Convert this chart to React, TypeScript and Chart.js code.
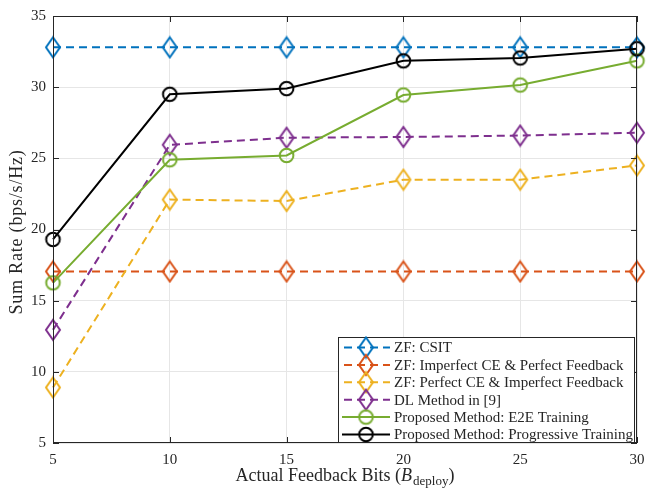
import React, { useEffect, useRef } from "react";
import { Chart, registerables } from "chart.js";
Chart.register(...registerables);

const bits = [5, 10, 15, 20, 25, 30];
const zfCsit = [32.8, 32.8, 32.8, 32.8, 32.8, 32.8];
const zfImperfectCe = [17.05, 17.05, 17.05, 17.05, 17.05, 17.05];
const zfImperfectFb = [8.9, 22.1, 22.0, 23.5, 23.5, 24.5];
const dlMethod = [12.95, 25.95, 26.45, 26.5, 26.6, 26.8];
const e2eTraining = [16.25, 24.9, 25.2, 29.45, 30.15, 31.85];
const progressiveTraining = [19.3, 29.5, 29.9, 31.85, 32.05, 32.7];
const xTicks = [5, 10, 15, 20, 25, 30];
const yTicks = [5, 10, 15, 20, 25, 30, 35];
const seriesLabels = [
  "ZF: CSIT",
  "ZF: Imperfect CE & Perfect Feedback",
  "ZF: Perfect CE & Imperfect Feedback",
  "DL Method in [9]",
  "Proposed Method: E2E Training",
  "Proposed Method: Progressive Training",
];
const seriesColors = ["#0072BD", "#D95319", "#EDB120", "#7E2F8E", "#77AC30", "#000000"];
const FONT = "'Liberation Serif', 'DejaVu Serif', serif";
const AXIS = "#262626";

function makeDiamond(color: string) {
  const w = 14, h = 20, lw = 2;
  const c = document.createElement("canvas");
  c.width = w + lw * 2;
  c.height = h + lw * 2;
  const ctx = c.getContext("2d")!;
  const cx = c.width / 2, cy = c.height / 2;
  ctx.strokeStyle = color;
  ctx.lineWidth = lw;
  ctx.lineJoin = "miter";
  ctx.beginPath();
  ctx.moveTo(cx, cy - h / 2);
  ctx.lineTo(cx + w / 2, cy);
  ctx.lineTo(cx, cy + h / 2);
  ctx.lineTo(cx - w / 2, cy);
  ctx.closePath();
  ctx.stroke();
  return c;
}

function makeCircle(color: string) {
  const r = 6.8, lw = 2;
  const c = document.createElement("canvas");
  c.width = Math.ceil(2 * r + lw * 2) + 1;
  c.height = c.width;
  const ctx = c.getContext("2d")!;
  ctx.strokeStyle = color;
  ctx.lineWidth = lw;
  ctx.beginPath();
  ctx.arc(c.width / 2, c.height / 2, r, 0, Math.PI * 2);
  ctx.stroke();
  return c;
}

export default function App() {
  const ref = useRef<HTMLCanvasElement>(null);
  useEffect(() => {
    if (!ref.current) return;
    const allValues = [zfCsit, zfImperfectCe, zfImperfectFb, dlMethod, e2eTraining, progressiveTraining];
    const dashed = [true, true, true, true, false, false];
    const markers = allValues.map((_, i) => (i < 4 ? makeDiamond(seriesColors[i]) : makeCircle(seriesColors[i])));
    const datasets = allValues.map((vals, i) => ({
      label: seriesLabels[i],
      data: bits.map((b, j) => ({ x: b, y: vals[j] })),
      borderColor: seriesColors[i],
      backgroundColor: "rgba(0,0,0,0)",
      borderWidth: 2,
      borderDash: dashed[i] ? [8, 5] : [],
      pointStyle: markers[i] as any,
      pointRadius: 8,
      tension: 0,
      clip: false as any,
      order: 6 - i,
    }));

    const framePlugin = {
      id: "frame",
      afterDatasetsDraw(chart: any) {
        const { ctx, chartArea: a, scales } = chart;
        ctx.save();
        ctx.strokeStyle = AXIS;
        ctx.lineWidth = 1;
        ctx.strokeRect(a.left + 0.5, a.top + 0.5, a.right - a.left - 1, a.bottom - a.top - 1);
        ctx.beginPath();
        xTicks.forEach((t) => {
          const x = Math.round(scales.x.getPixelForValue(t)) + 0.5;
          ctx.moveTo(x, a.bottom);
          ctx.lineTo(x, a.bottom - 6);
          ctx.moveTo(x, a.top);
          ctx.lineTo(x, a.top + 6);
        });
        yTicks.forEach((t) => {
          const y = Math.round(scales.y.getPixelForValue(t)) + 0.5;
          ctx.moveTo(a.left, y);
          ctx.lineTo(a.left + 6, y);
          ctx.moveTo(a.right, y);
          ctx.lineTo(a.right - 6, y);
        });
        ctx.stroke();
        ctx.restore();
      },
      afterDraw(chart: any) {
        const { ctx, chartArea: a } = chart;
        ctx.save();
        // Legend
        const bx = 338, by = 337, bw = a.right - 3 - bx, bh = a.bottom - 1 - by;
        ctx.fillStyle = "#ffffff";
        ctx.fillRect(bx, by, bw, bh);
        ctx.strokeStyle = AXIS;
        ctx.lineWidth = 1;
        ctx.strokeRect(bx + 0.5, by + 0.5, bw, bh);
        ctx.font = `15px ${FONT}`;
        ctx.textBaseline = "middle";
        seriesLabels.forEach((lab, i) => {
          const y = by + 10.5 + i * 17.4;
          ctx.strokeStyle = seriesColors[i];
          ctx.lineWidth = 2;
          ctx.setLineDash(dashed[i] ? [8, 5] : []);
          ctx.lineDashOffset = dashed[i] ? -2 : 0;
          ctx.beginPath();
          ctx.moveTo(bx + 4, y);
          ctx.lineTo(bx + 52, y);
          ctx.stroke();
          ctx.setLineDash([]);
          const m = markers[i];
          ctx.drawImage(m, bx + 28 - m.width / 2, y - m.height / 2);
          ctx.fillStyle = AXIS;
          ctx.textAlign = "left";
          ctx.fillText(lab, bx + 56, y + 1);
        });
        // X title
        const cx = (a.left + a.right) / 2;
        const ty = 481;
        const p1 = "Actual Feedback Bits (";
        const p2 = "B";
        const p3 = "deploy";
        const p4 = ")";
        ctx.fillStyle = AXIS;
        ctx.textBaseline = "alphabetic";
        ctx.font = `18px ${FONT}`;
        const w1 = ctx.measureText(p1).width;
        const w4 = ctx.measureText(p4).width;
        ctx.font = `italic 18px ${FONT}`;
        const w2 = ctx.measureText(p2).width;
        ctx.font = `13px ${FONT}`;
        const w3 = ctx.measureText(p3).width;
        let x = cx - (w1 + w2 + w3 + w4 + 1) / 2;
        ctx.textAlign = "left";
        ctx.font = `18px ${FONT}`;
        ctx.fillText(p1, x, ty);
        x += w1;
        ctx.font = `italic 18px ${FONT}`;
        ctx.fillText(p2, x, ty);
        x += w2 + 1;
        ctx.font = `13px ${FONT}`;
        ctx.fillText(p3, x, ty + 4);
        x += w3;
        ctx.font = `18px ${FONT}`;
        ctx.fillText(p4, x, ty);
        // Y title
        ctx.translate(22, 232);
        ctx.rotate(-Math.PI / 2);
        ctx.textAlign = "center";
        ctx.textBaseline = "alphabetic";
        ctx.font = `18px ${FONT}`;
        (ctx as any).letterSpacing = "0.8px";
        ctx.fillText("Sum Rate (bps/s/Hz)", 0, 0);
        ctx.restore();
      },
    };

    const chart = new Chart(ref.current, {
      type: "line",
      data: { datasets: datasets as any },
      options: {
        responsive: false,
        animation: false,
        devicePixelRatio: 1,
        layout: { padding: { left: 0, right: 0, top: 16, bottom: 0 } },
        plugins: { legend: { display: false }, tooltip: { enabled: false } },
        scales: {
          x: {
            type: "linear",
            min: 5,
            max: 30,
            afterBuildTicks: (axis: any) => {
              axis.ticks = xTicks.map((v) => ({ value: v }));
            },
            afterFit: (axis: any) => {
              axis.height = 49;
              axis.paddingRight = 2;
              axis.paddingLeft = 0;
            },
            grid: { color: "#e6e6e6", lineWidth: 1, drawTicks: false },
            border: { display: false },
            ticks: { color: AXIS, font: { family: FONT, size: 15 }, padding: 8, maxRotation: 0 },
          },
          y: {
            type: "linear",
            min: 5,
            max: 35,
            afterBuildTicks: (axis: any) => {
              axis.ticks = yTicks.map((v) => ({ value: v }));
            },
            afterFit: (axis: any) => {
              axis.width = 53;
              axis.paddingTop = 0;
              axis.paddingBottom = 0;
            },
            grid: { color: "#e6e6e6", lineWidth: 1, drawTicks: false },
            border: { display: false },
            ticks: { color: AXIS, font: { family: FONT, size: 15 }, padding: 7 },
          },
        },
      },
      plugins: [framePlugin],
    });
    return () => chart.destroy();
  }, []);
  return (
    <div style={{ position: "absolute", left: 0, top: 0, width: 647, height: 492, background: "#fff" }}>
      <canvas ref={ref} width={647} height={492} />
    </div>
  );
}
